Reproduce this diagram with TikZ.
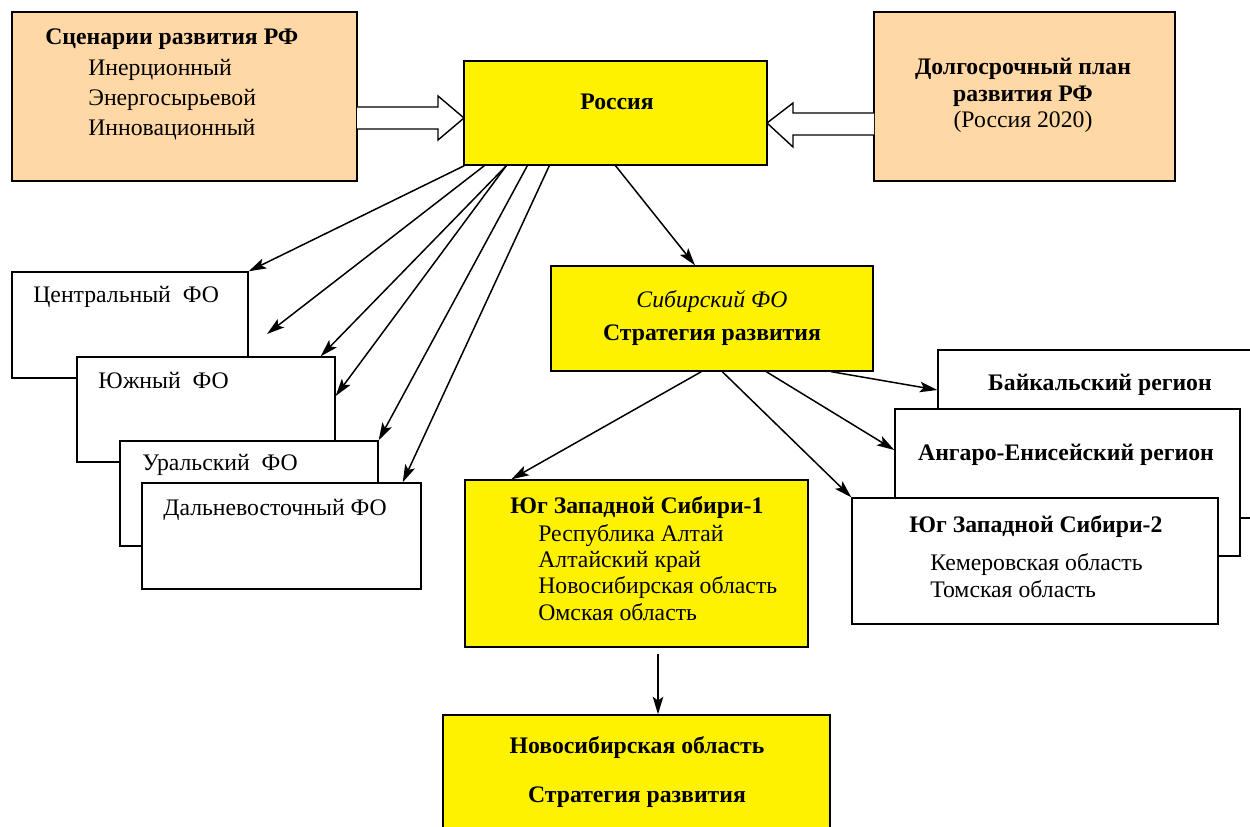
\documentclass[tikz,border=0pt]{standalone}
\usepackage{fontspec}
\setmainfont{Liberation Serif}
\usetikzlibrary{arrows.meta}
\definecolor{peach}{HTML}{FFD8A6}
\definecolor{sunyellow}{HTML}{FFF200}

\begin{document}
\begin{tikzpicture}[x=0.02cm, y=-0.02cm,
                box/.style={draw, line width=0.8pt, inner sep=0pt},
                txt/.style={inner sep=0pt, font=\fontsize{13.5}{16}\selectfont},
                link/.style={-{Stealth[length=10pt, width=6pt, inset=2.2pt]}, line width=0.85pt},
                hollow/.style={draw, line width=0.8pt, fill=white, line join=miter}]

            \clip (0,0) rectangle (1250,827);

            % top row
            \node[box, fill=peach, minimum width=6.9cm, minimum height=3.38cm] (scenarios) at (184.5,96.5) {};
            \node[box, fill=sunyellow, minimum width=6.06cm, minimum height=2.08cm] (russia) at (615.5,113) {};
            \node[box, fill=peach, minimum width=6.02cm, minimum height=3.38cm] (longplan) at (1024.5,96.5) {};

            % federal districts
            \node[box, fill=white, minimum width=4.72cm, minimum height=2.12cm] (centralfo) at (130,325) {};
            \node[box, fill=white, minimum width=5.16cm, minimum height=2.1cm] (southfo) at (206,409.5) {};
            \node[box, fill=white, minimum width=5.16cm, minimum height=2.1cm] (uralfo) at (249,493.5) {};
            \node[box, fill=white, minimum width=5.58cm, minimum height=2.12cm] (fareastfo) at (281.5,536) {};
            \node[box, fill=sunyellow, minimum width=6.44cm, minimum height=2.1cm] (siberiafo) at (712,318.5) {};

            % regions
            \node[box, fill=white, minimum width=6.48cm, minimum height=3.36cm] (baikal) at (1100,434) {};
            \node[box, fill=white, minimum width=6.9cm, minimum height=2.94cm] (angara) at (1067.5,482.5) {};
            \node[box, fill=white, minimum width=7.32cm, minimum height=2.52cm] (southwest2) at (1035,561) {};
            \node[box, fill=sunyellow, minimum width=6.86cm, minimum height=3.34cm] (southwest1) at (636.5,563.5) {};
            \node[box, fill=sunyellow, minimum width=7.74cm, minimum height=2.5cm] (novosib) at (636.5,777.5) {};

            % texts
            \node[txt, anchor=base west] (scen-t) at (45,45) {\textbf{Сценарии развития РФ}};
            \node[txt, anchor=base west] (scen-1) at (88,76) {Инерционный};
            \node[txt, anchor=base west] (scen-2) at (88,106) {Энергосырьевой};
            \node[txt, anchor=base west] (scen-3) at (88,136) {Инновационный};
            \node[txt, anchor=base] (russia-t) at (617,110) {\textbf{Россия}};
            \node[txt, anchor=base] (plan-1) at (1023,75) {\textbf{Долгосрочный план}};
            \node[txt, anchor=base] (plan-2) at (1023,102) {\textbf{развития РФ}};
            \node[txt, anchor=base] (plan-3) at (1023,128) {(Россия 2020)};
            \node[txt, anchor=base west] (centralfo-t) at (33,303) {Центральный\ \ ФО};
            \node[txt, anchor=base west] (southfo-t) at (98,388) {Южный\ \ ФО};
            \node[txt, anchor=base west] (uralfo-t) at (142,470) {Уральский\ \ ФО};
            \node[txt, anchor=base west] (fareastfo-t) at (163,515) {Дальневосточный ФО};
            \node[txt, anchor=base] (siberiafo-1) at (712,308) {\textit{Сибирский ФО}};
            \node[txt, anchor=base] (siberiafo-2) at (712,340) {\textbf{Стратегия развития}};
            \node[txt, anchor=base] (baikal-t) at (1100,390) {\textbf{Байкальский регион}};
            \node[txt, anchor=base] (angara-t) at (1066,460) {\textbf{Ангаро-Енисейский регион}};
            \node[txt, anchor=base] (southwest2-t) at (1036,532) {\textbf{Юг Западной Сибири-2}};
            \node[txt, anchor=base west] (southwest2-1) at (930,570) {Кемеровская область};
            \node[txt, anchor=base west] (southwest2-2) at (930,597) {Томская область};
            \node[txt, anchor=base] (southwest1-t) at (637,513) {\textbf{Юг Западной Сибири-1}};
            \node[txt, anchor=base west] (southwest1-1) at (538,541) {Республика Алтай};
            \node[txt, anchor=base west] (southwest1-2) at (538,567) {Алтайский край};
            \node[txt, anchor=base west] (southwest1-3) at (538,593) {Новосибирская область};
            \node[txt, anchor=base west] (southwest1-4) at (538,620) {Омская область};
            \node[txt, anchor=base] (novosib-1) at (637,753) {\textbf{Новосибирская область}};
            \node[txt, anchor=base] (novosib-2) at (637,802) {\textbf{Стратегия развития}};

            % hollow arrows into Russia
            \draw[hollow] (357,107) -- (438,107) -- (438,96) -- (464,118) -- (438,140) -- (438,129) -- (357,129);
            \draw[hollow] (874,113) -- (793,113) -- (793,103) -- (767,123) -- (793,147) -- (793,135) -- (874,135);

            \coordinate (gap) at (267,334);

            % Russia to districts
            \draw[link] ([xshift=0.02cm]russia.south west) -- (centralfo.north east);
            \draw[link] ([xshift=0.42cm]russia.south west) -- (gap);
            \draw[link] ([xshift=0.86cm]russia.south west) -- ([xshift=-0.3cm]southfo.north east);
            \draw[link] ([xshift=0.86cm]russia.south west) -- ([yshift=0.27cm]southfo.east);
            \draw[link] ([xshift=1.28cm]russia.south west) -- (uralfo.north east);
            \draw[link] ([xshift=1.72cm]russia.south west) -- ([xshift=-0.38cm]fareastfo.north east);
            \draw[link] (russia.south) -- ([xshift=-0.34cm]siberiafo.north);

            % Siberia to regions
            \draw[link] ([xshift=3.02cm]siberiafo.south west) -- ([xshift=0.94cm]southwest1.north west);
            \draw[link] ([xshift=3.44cm]siberiafo.south west) -- (southwest2.north west);
            \draw[link] ([xshift=4.32cm]siberiafo.south west) -- ([yshift=0.65cm]angara.west);
            \draw[link] ([xshift=5.62cm]siberiafo.south west) -- ([yshift=0.88cm]baikal.west);
            \draw[link, shorten <=0.12cm] ([xshift=0.43cm]southwest1.south) -- ([xshift=0.43cm]novosib.north);
        \end{tikzpicture}
\end{document}
